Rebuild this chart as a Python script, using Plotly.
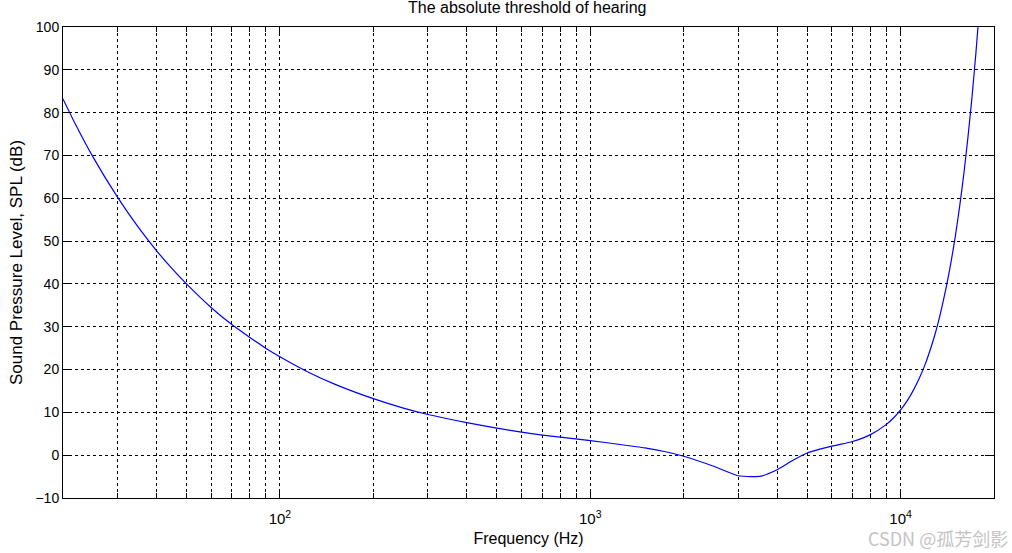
import plotly.graph_objects as go

# Values
freq_hz = [20, 22, 25, 30, 35, 40, 45, 50, 60, 70, 80, 90, 100, 125, 150, 200, 250,
           300, 400, 500, 600, 700, 800, 1000, 1250, 1500, 1750, 2000, 2500, 3000,
           3300, 3550, 4000, 4500, 5000, 6000, 7000, 8000, 9000, 9500, 10000, 10500,
           11000, 11500, 12000, 12500, 13000, 13500, 14000, 14500, 15000, 15500,
           16000, 16500, 17000, 17500, 18000]
spl_db = [83.2, 77.1, 69.6, 60.2, 53.2, 47.8, 43.5, 40.0, 34.5, 30.5, 27.5, 25.0,
          23.0, 19.2, 16.6, 13.2, 11.0, 9.5, 7.6, 6.3, 5.4, 4.7, 4.2, 3.4, 2.5, 1.7,
          0.8, -0.25, -2.6, -4.8, -5.0, -4.9, -3.4, -1.2, 0.5, 2.1, 3.2, 4.8, 7.2,
          8.75, 10.6, 12.7, 15.2, 18.0, 21.2, 24.9, 29.0, 33.7, 38.9, 44.6, 51.0,
          58.1, 65.9, 74.5, 83.9, 94.2, 105.3]

major_ticks = [100, 1000, 10000]
major_labels = ["10<sup>2</sup>", "10<sup>3</sup>", "10<sup>4</sup>"]
minor_ticks = [30, 40, 50, 60, 70, 80, 90,
               200, 300, 400, 500, 600, 700, 800, 900,
               2000, 3000, 4000, 5000, 6000, 7000, 8000, 9000]
y_ticks = [-10, 0, 10, 20, 30, 40, 50, 60, 70, 80, 90, 100]

font = "Liberation Sans, Arial, sans-serif"

fig = go.Figure()
fig.add_trace(go.Scatter(x=freq_hz, y=spl_db, mode="lines",
                         line=dict(color="#0000ff", width=1.2, shape="spline",
                                   smoothing=0.6),
                         showlegend=False))

fig.update_layout(
    width=1012, height=553,
    margin=dict(l=63, r=18, t=27, b=55, autoexpand=False),
    paper_bgcolor="white", plot_bgcolor="white",
    font=dict(family=font, size=14, color="black"),
    title=dict(text="The absolute threshold of hearing", x=0.521, xanchor="center",
               y=0.997, yanchor="top", font=dict(size=16, family=font)),
    xaxis=dict(
        type="log", range=[1.30103, 4.30103], automargin=False,
        tickmode="array", tickvals=major_ticks, ticktext=major_labels,
        ticks="inside", ticklen=9, tickcolor="black", ticklabelstandoff=7,
        tickfont=dict(size=15),
        showline=True, linecolor="black", linewidth=1, mirror="ticks",
        showgrid=True, gridcolor="black", griddash="3px,3px", gridwidth=1,
        minor=dict(tickvals=minor_ticks, ticks="inside", ticklen=5,
                   tickcolor="black", showgrid=True, gridcolor="black",
                   griddash="3px,3px", gridwidth=1),
        title=dict(text="Frequency (Hz)", standoff=6, font=dict(size=16)),
        zeroline=False,
    ),
    yaxis=dict(
        range=[-10, 100], tickmode="array", tickvals=y_ticks, automargin=False,
        ticks="inside", ticklen=9, tickcolor="black",
        showline=True, linecolor="black", linewidth=1, mirror="ticks",
        showgrid=True, gridcolor="black", griddash="3px,3px", gridwidth=1,
        title=dict(text="Sound Pressure Level, SPL (dB)", standoff=8, font=dict(size=17)),
        zeroline=False,
    ),
)

fig.add_annotation(text="CSDN @孤芳剑影", xref="paper", yref="paper",
                   x=1.016, y=-0.056, xanchor="right", yanchor="top", showarrow=False,
                   borderpad=0,
                   font=dict(family="Noto Sans CJK SC", size=18, color="#c4c4c4"))

fig.write_html("out.html", config={"displayModeBar": False},
               post_script="document.body.style.margin='0';document.body.style.overflow='hidden';")
